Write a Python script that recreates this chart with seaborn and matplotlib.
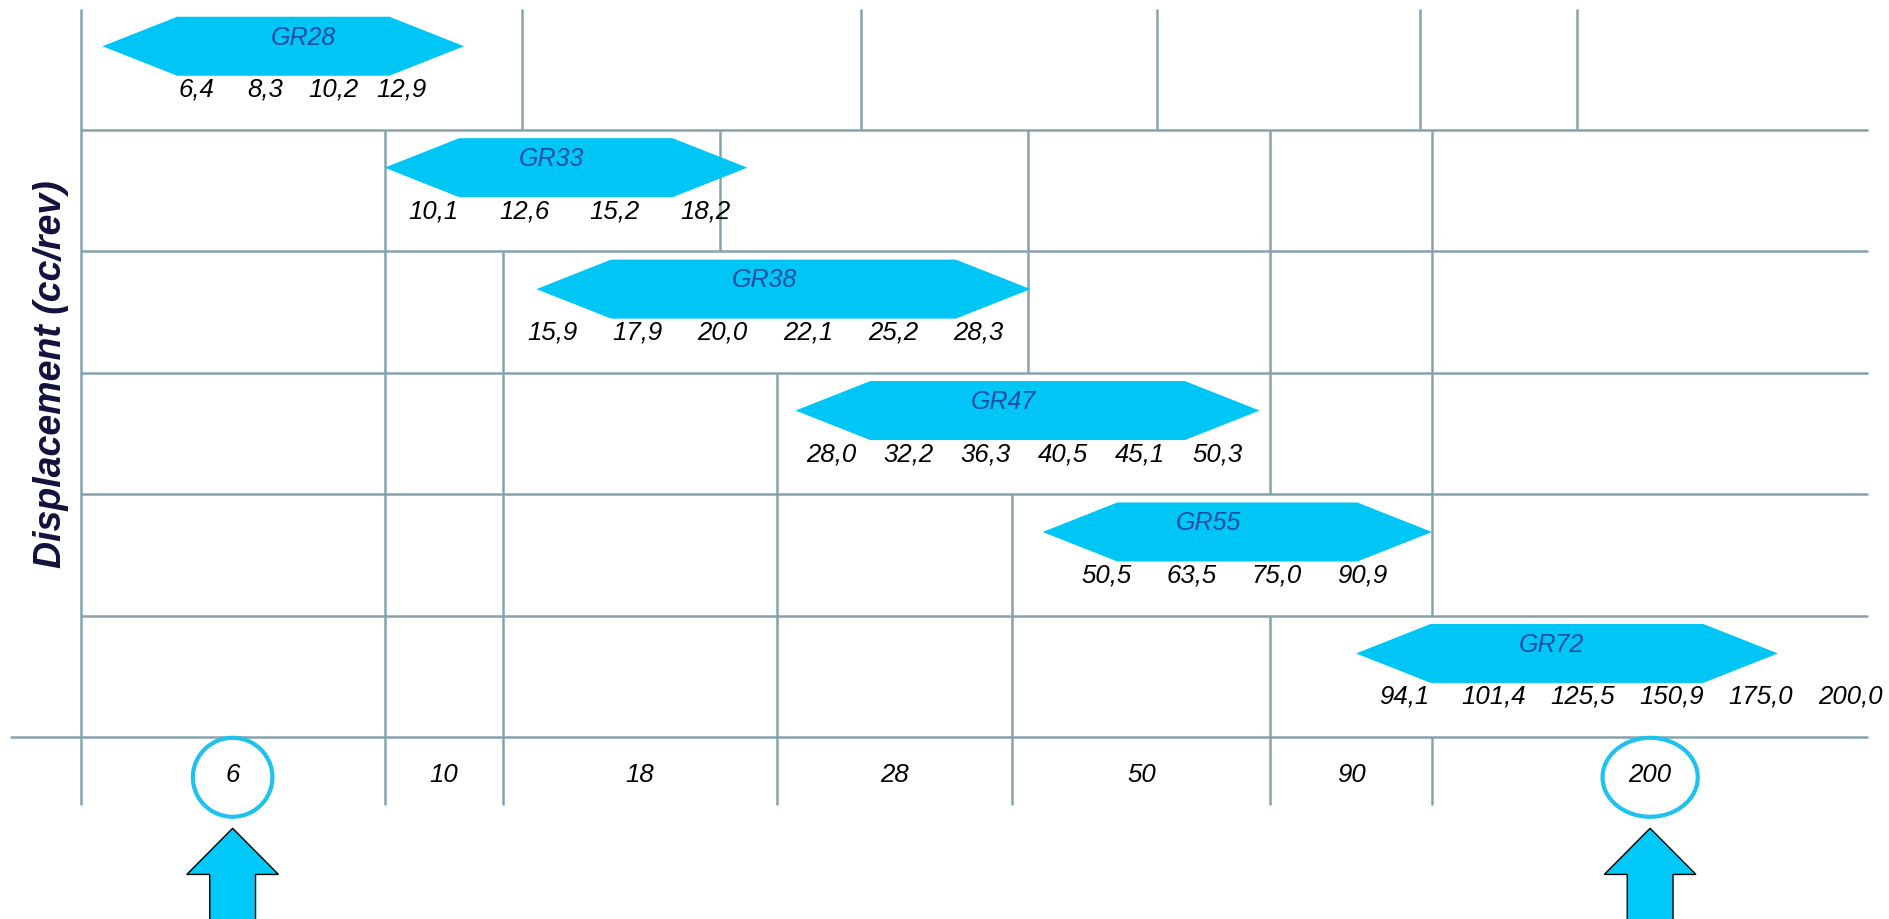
import seaborn as sns
import matplotlib.pyplot as plt
from matplotlib.patches import Ellipse, Polygon

# bottom scale classes and their band edges (chart x units, 0-1568)
scale_labels = ['6', '10', '18', '28', '50', '90', '200']
scale_edges = [67, 319, 417, 645, 840, 1054, 1188, 1550]
marked = ['6', '200']

motors = ['GR28', 'GR33', 'GR38', 'GR47', 'GR55', 'GR72']
displacements = [
    ['6,4', '8,3', '10,2', '12,9'],
    ['10,1', '12,6', '15,2', '18,2'],
    ['15,9', '17,9', '20,0', '22,1', '25,2', '28,3'],
    ['28,0', '32,2', '36,3', '40,5', '45,1', '50,3'],
    ['50,5', '63,5', '75,0', '90,9'],
    ['94,1', '101,4', '125,5', '150,9', '175,0', '200,0'],
]
# span of each motor family on the chart scale
hex_start = [85, 319, 445, 660, 865, 1125]
hex_end = [385, 620, 855, 1045, 1188, 1475]
value_first = [163, 360, 458, 690, 918, 1165]
value_last = [333, 585, 812, 1010, 1130, 1535]

# cell dividers inside each motor row
row_dividers = [
    [433, 714, 960, 1178, 1308],
    [319, 597, 853, 1054, 1188],
    [319, 417, 853, 1054, 1188],
    [319, 417, 645, 1054, 1188],
    [319, 417, 645, 840, 1188],
    [319, 417, 645, 840, 1054],
]

sns.set_theme(style='white')
plt.rcParams['font.family'] = ['Liberation Sans', 'DejaVu Sans']

grid_col = '#86a2ad'
cyan = '#00c6f5'
lw = 1.8
name_shift = [17, -12, -16, -20, -24, -13]

fig = plt.figure(figsize=(18.9, 9.2), dpi=100)
ax = fig.add_axes([0, 0, 1, 1])
ax.set_xlim(0, 1568)
ax.set_ylim(7.497, -0.079)
ax.axis('off')

n = len(motors)
left, right = scale_edges[0], scale_edges[-1]
band_h = 0.56

# grid
ax.hlines(range(1, n), left, right, color=grid_col, lw=lw)
ax.hlines(n, 8, right, color=grid_col, lw=lw)
ax.vlines(left, 0, n + band_h, color=grid_col, lw=lw)
for i, divs in enumerate(row_dividers):
    ax.vlines(divs, i, i + 1, color=grid_col, lw=lw)
ax.vlines(scale_edges[1:-1], n, n + band_h, color=grid_col, lw=lw)

# motor families
slant = 62
half_h = 0.243
for i, name in enumerate(motors):
    yc = i + 0.31
    x0, x1 = hex_start[i], hex_end[i]
    pts = [(x0, yc), (x0 + slant, yc - half_h), (x1 - slant, yc - half_h),
           (x1, yc), (x1 - slant, yc + half_h), (x0 + slant, yc + half_h)]
    ax.add_patch(Polygon(pts, closed=True, facecolor=cyan, edgecolor='none', zorder=3))
    ax.text((x0 + x1) / 2 + name_shift[i], yc - 0.08, name, ha='center', va='center',
            fontsize=18, style='italic', color='#1d4ea6', zorder=4)
    vals = displacements[i]
    k = len(vals)
    for j, v in enumerate(vals):
        xv = value_first[i] + (value_last[i] - value_first[i]) * j / (k - 1)
        ax.text(xv, i + 0.66, v, ha='center', va='center', fontsize=18.5,
                style='italic', color='black', zorder=4)

# bottom scale labels
ymid = n + 0.30
for lab, a, b in zip(scale_labels, scale_edges[:-1], scale_edges[1:]):
    xc = (a + b) / 2
    ax.text(xc, ymid, lab, ha='center', va='center', fontsize=18.5,
            style='italic', color='black', zorder=4)
    if lab in marked:
        w = 66 if len(lab) == 1 else 79
        ax.add_patch(Ellipse((xc, n + 0.33), w, 0.65, facecolor='none',
                             edgecolor='#1ec2ee', lw=3.0, zorder=5))
        tip, base, bottom = 6.75, 7.13, 7.6
        arrow = [(xc, tip), (xc + 38, base), (xc + 19, base), (xc + 19, bottom),
                 (xc - 19, bottom), (xc - 19, base), (xc - 38, base)]
        ax.add_patch(Polygon(arrow, closed=True, facecolor='#00c8f8',
                             edgecolor='black', lw=1.0, zorder=5))

ax.text(42, 3.0, 'Displacement (cc/rev)', rotation=90, ha='center', va='center',
        fontsize=27, fontweight='bold', style='italic', color='#12123e')

fig.savefig('out.png', dpi=100)
